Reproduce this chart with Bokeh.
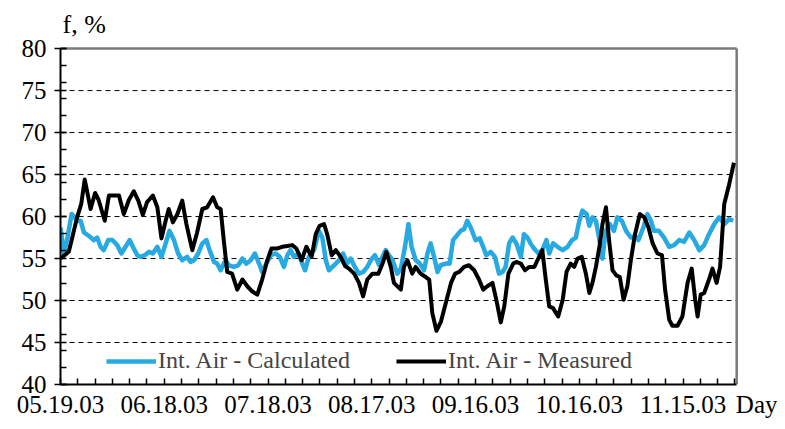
import pandas as pd
from bokeh.plotting import figure
from bokeh.models import (Range1d, FixedTicker, Legend, LegendItem, ColumnDataSource, Title,
                          LinearAxis)
from bokeh.embed import file_html
from bokeh.resources import INLINE

# x: days since 05.19.03
tick_days = [0, 30, 60, 90, 120, 150, 180]
tick_labels = ["05.19.03", "06.18.03", "07.18.03", "08.17.03", "09.16.03", "10.16.03", "11.15.03"]
x_unit_label = "Day"
y_ticks = [40, 45, 50, 55, 60, 65, 70, 75, 80]
grid_ticks = [45, 50, 55, 60, 65, 70, 75]

meas_day = [0, 2.4, 3.4, 4.8, 6, 7, 7.7, 8.7, 10, 11, 12.8, 14, 15.4, 16.9, 18.3, 19.8, 21.2, 22.5,
            23.8, 25, 26.7, 28, 29.2, 30.4, 31.3, 32.5, 33.8, 35.2, 36.4, 38.1, 39.5, 41, 42.4, 44.1,
            45.3, 46.3, 47.2, 48.2, 49.6, 51.1, 52.6, 54, 55.4, 56.9, 58.3, 59.8, 61, 62.7, 64.1, 65.6,
            67, 68.2, 69.7, 71.1, 72.6, 73.8, 74.9, 76.2, 77.1, 78.4, 79.6, 81, 82.3, 83.4, 84.9, 86.3,
            87.5, 88.7, 90.2, 91.9, 93.1, 94.2, 95.5, 96.4, 98.4, 99.3, 100.3, 101.7, 102.7, 104.1,
            105.6, 106.6, 107.5, 108.7, 110, 111.4, 112.9, 114.1, 115.3, 116.7, 118.1, 119.6, 121,
            122.2, 123.4, 124.9, 126, 127.3, 128.3, 129.5, 130.9, 131.8, 133.1, 134.3, 135.5, 137,
            137.9, 139.3, 140.3, 141.3, 142.4, 143.9, 145.2, 146.3, 147.5, 148.5, 149.5, 150.7, 151.9,
            152.9, 153.8, 154.8, 155.9, 156.7, 157.7, 158.6, 159.6, 160.7, 161.7, 162.8, 163.9, 164.9,
            166.1, 167.5, 168.8, 170, 171.2, 172.6, 173.9, 174.8, 176, 176.9, 178.4, 179.8, 181.3,
            182.5, 183.5, 184.2, 185.1, 186.1, 187.5, 188.5, 189.7, 190.7, 191.9, 193.3, 194.7]
meas_val = [55.0, 55.8, 57.5, 59.9, 61.5, 64.4, 63.0, 60.9, 62.8, 62.0, 59.5, 62.5, 62.5, 62.5, 60.3,
            62.0, 63.0, 61.9, 60.2, 61.7, 62.5, 61.1, 57.4, 59.5, 60.9, 59.3, 60.3, 61.9, 59.1, 56.0,
            58.1, 60.9, 61.1, 62.3, 61.1, 60.9, 57.2, 53.4, 53.2, 51.3, 52.5, 51.7, 51.1, 50.7, 52.5,
            54.8, 56.2, 56.2, 56.4, 56.5, 56.6, 56.2, 54.8, 56.4, 55.2, 57.9, 58.9, 59.1, 57.9, 55.4,
            56.0, 55.2, 54.1, 53.8, 53.2, 52.1, 50.5, 52.5, 53.2, 53.2, 54.4, 55.8, 54.0, 52.1, 51.3,
            54.0, 54.8, 53.2, 54.0, 53.2, 52.8, 52.5, 48.5, 46.4, 47.5, 49.7, 52.1, 53.2, 53.4, 54.0,
            54.2, 53.6, 52.5, 51.3, 51.7, 52.1, 50.1, 47.4, 49.3, 53.2, 54.4, 54.6, 54.4, 53.6, 54.0,
            54.0, 54.8, 56.0, 52.5, 49.3, 49.1, 48.1, 50.1, 53.4, 54.4, 54.0, 55.0, 55.2, 53.2, 50.9,
            52.1, 54.0, 56.6, 59.1, 61.1, 57.2, 53.6, 53.0, 52.8, 50.1, 51.7, 54.8, 57.9, 60.3, 59.9,
            58.7, 56.8, 55.6, 55.4, 51.3, 47.7, 47.0, 47.0, 48.1, 52.1, 53.8, 50.1, 48.1, 50.7, 50.9,
            52.5, 53.8, 52.1, 54.0, 61.5, 63.8, 66.4]

calc_day = [0, 1, 1.9, 3.2, 4.1, 4.8, 5.8, 6.8, 8.2, 9.6, 10.6, 11.6, 12.5, 13.8, 15, 16.4, 17.6, 18.8,
            20, 20.9, 22.2, 23.1, 24.4, 25.6, 26.7, 28, 29.2, 30.4, 31.5, 32.8, 34, 35.2, 36.6, 37.6,
            38.6, 39.8, 41, 42.2, 43.1, 44.4, 45.3, 46.3, 47.7, 48.7, 50.1, 51.4, 52.6, 53.7, 55,
            56.2, 57.4, 58.3, 59.5, 60.8, 62.2, 63.4, 64.6, 65.6, 66.5, 67.5, 68.8, 69.9, 70.7, 71.8,
            73.3, 74.7, 75.7, 76.7, 77.6, 78.6, 79.6, 80.5, 81.7, 82.9, 83.9, 85.1, 86.3, 87.5, 88.7,
            89.7, 90.9, 92.1, 93.1, 94, 95, 96, 97.4, 98.4, 99.6, 100.6, 101.5, 102.7, 103.9, 105.1,
            106.1, 107, 108, 109, 109.9, 111.4, 112.5, 113.5, 114.5, 115.7, 116.7, 117.6, 118.6, 120,
            121.2, 122.2, 123.1, 124.4, 125.6, 126.8, 127.8, 128.7, 129.7, 130.7, 131.8, 133.1, 134,
            135, 135.9, 136.9, 138.2, 139.3, 140.5, 141.3, 142.4, 143.7, 145.2, 146.6, 147.9, 149,
            150, 150.9, 152.1, 152.9, 153.8, 154.8, 155.7, 156.7, 157.6, 158.8, 160, 161, 162.3,
            163.5, 164.9, 166.1, 167.1, 168.5, 169.7, 170.7, 171.6, 173, 174.5, 176, 177.4, 178.9,
            180.3, 181.8, 183.2, 184.7, 186.1, 187.5, 189, 190.4, 191.9, 193.3, 194.5]
calc_val = [58.7, 55.6, 57.2, 60.3, 59.9, 59.5, 59.5, 58.1, 57.7, 57.2, 57.5, 56.4, 56.0, 57.2, 57.2,
            56.6, 55.6, 56.4, 57.2, 56.4, 55.4, 55.2, 55.4, 55.8, 55.6, 56.4, 55.2, 56.8, 58.3, 57.2,
            55.6, 54.8, 55.2, 54.6, 54.8, 55.6, 56.8, 57.2, 56.0, 54.6, 54.4, 53.6, 54.8, 54.2, 54.0,
            54.2, 55.0, 54.4, 54.8, 55.6, 54.4, 53.4, 54.4, 55.4, 55.6, 55.2, 54.0, 55.4, 56.0, 55.2,
            55.6, 54.4, 53.6, 55.2, 56.0, 58.3, 57.5, 54.8, 53.6, 54.0, 54.4, 54.8, 55.6, 54.4, 55.0,
            54.0, 53.2, 53.4, 54.0, 54.8, 55.4, 54.2, 55.2, 56.0, 55.4, 54.8, 53.2, 53.8, 56.4, 59.1,
            56.4, 54.8, 54.4, 53.6, 55.6, 56.8, 55.2, 53.4, 54.2, 54.4, 54.4, 57.2, 57.7, 58.3, 58.5,
            59.5, 58.7, 57.2, 57.4, 56.4, 55.4, 55.8, 55.2, 53.2, 53.4, 54.0, 56.8, 57.5, 56.8, 55.2,
            57.9, 57.5, 56.8, 56.2, 55.6, 56.0, 57.2, 55.6, 56.8, 56.4, 56.0, 56.4, 57.2, 57.5, 59.5,
            60.7, 60.3, 58.9, 59.9, 59.5, 57.5, 55.0, 58.3, 59.1, 58.3, 59.9, 59.5, 58.3, 57.5, 57.7,
            57.2, 58.7, 60.3, 59.5, 58.3, 58.3, 57.5, 56.4, 56.6, 57.2, 57.0, 58.1, 57.2, 56.0, 56.6,
            57.9, 59.1, 59.9, 59.1, 59.7, 59.5]

FONT = "Liberation Serif"
BLUE = "#27a9e1"
X_START, X_END = 0, 195.5        # plotted date span (days)
X_VIEW_END = 207.3               # extra room on the right for the "Day" unit label
DAY_LABEL_POS = 202.3
Y_START, Y_END = 40, 80
Y_VIEW_END = 80.25

p = figure(width=777, height=424, output_backend="svg", toolbar_location=None,
           x_range=Range1d(X_START, X_VIEW_END), y_range=Range1d(Y_START, Y_VIEW_END),
           min_border_left=60, min_border_right=0, min_border_top=44, min_border_bottom=40)
p.background_fill_color = "white"
p.border_fill_color = "white"
p.outline_line_color = None
p.xgrid.visible = False
p.ygrid.visible = False

title = Title(text="f, %", align="left", offset=2, text_font=FONT, text_font_size="26px",
              text_font_style="normal", text_color="black", standoff=15)
p.add_layout(title, "above")

# dashed horizontal grid limited to the data span
grid_src = ColumnDataSource(dict(x0=[X_START] * len(grid_ticks), x1=[X_END] * len(grid_ticks),
                                 y=grid_ticks))
p.segment(x0="x0", x1="x1", y0="y", y1="y", source=grid_src, line_color="black",
          line_width=1, line_dash="5 4")
# gray top and right edges of the plot box
box_src = ColumnDataSource(dict(x0=[X_START, X_END], x1=[X_END, X_END],
                                y0=[Y_END, Y_START], y1=[Y_END, Y_END]))
p.segment(x0="x0", x1="x1", y0="y0", y1="y1", source=box_src, line_color="#7a7a7a",
          line_width=2.5, line_alpha=1.0)

calc_src = ColumnDataSource(dict(x=calc_day, y=calc_val))
meas_src = ColumnDataSource(dict(x=meas_day, y=meas_val))
r_calc = p.line("x", "y", source=calc_src, line_color=BLUE, line_width=4.5, line_join="round")
r_meas = p.line("x", "y", source=meas_src, line_color="black", line_width=4, line_join="round")

# x axis: line + ticks only (bounded to the data span), no labels
xa = p.xaxis[0]
xa.bounds = (X_START, X_END)
xa.ticker = FixedTicker(ticks=[], minor_ticks=list(range(0, 196, 5)))
# second x axis: labels only (date labels + "Day")
xl = LinearAxis(ticker=FixedTicker(ticks=tick_days + [DAY_LABEL_POS], minor_ticks=[]))
xl.major_label_overrides = {**{d: l for d, l in zip(tick_days, tick_labels)},
                            DAY_LABEL_POS: x_unit_label}
xl.axis_line_color = None
xl.major_tick_line_color = None
xl.minor_tick_line_color = None
xl.major_tick_in = 0
xl.major_tick_out = 0
xl.minor_tick_in = 0
xl.minor_tick_out = 0
xl.major_label_standoff = 6
xl.major_label_text_font = FONT
xl.major_label_text_font_size = "25px"
xl.major_label_text_color = "black"
p.add_layout(xl, "below")

ya = p.yaxis[0]
ya.bounds = (Y_START, Y_END)
ya.ticker = FixedTicker(ticks=y_ticks, minor_ticks=list(range(40, 81, 2)))

for ax in (xa, ya):
    ax.axis_line_color = "black"
    ax.axis_line_width = 2
    ax.major_tick_line_color = "black"
    ax.major_tick_line_width = 1.5
    ax.major_tick_in = 6
    ax.major_tick_out = 6
    ax.minor_tick_line_color = "black"
    ax.minor_tick_line_width = 1.5
    ax.minor_tick_in = 6
    ax.minor_tick_out = 0
ya.major_label_text_font = FONT
ya.major_label_text_font_size = "25px"
ya.major_label_text_color = "black"
ya.major_label_standoff = 8

legend = Legend(items=[LegendItem(label="Int. Air - Calculated", renderers=[r_calc]),
                       LegendItem(label="Int. Air - Measured", renderers=[r_meas])],
                orientation="horizontal", location=(44, 8))
legend.label_text_font = FONT
legend.label_text_font_size = "24px"
legend.glyph_width = 50
legend.glyph_height = 20
legend.label_standoff = 2
legend.spacing = 46
legend.padding = 2
legend.margin = 0
legend.border_line_alpha = 0
legend.background_fill_alpha = 0
p.add_layout(legend)

open("out.html", "w").write(file_html(p, INLINE))
